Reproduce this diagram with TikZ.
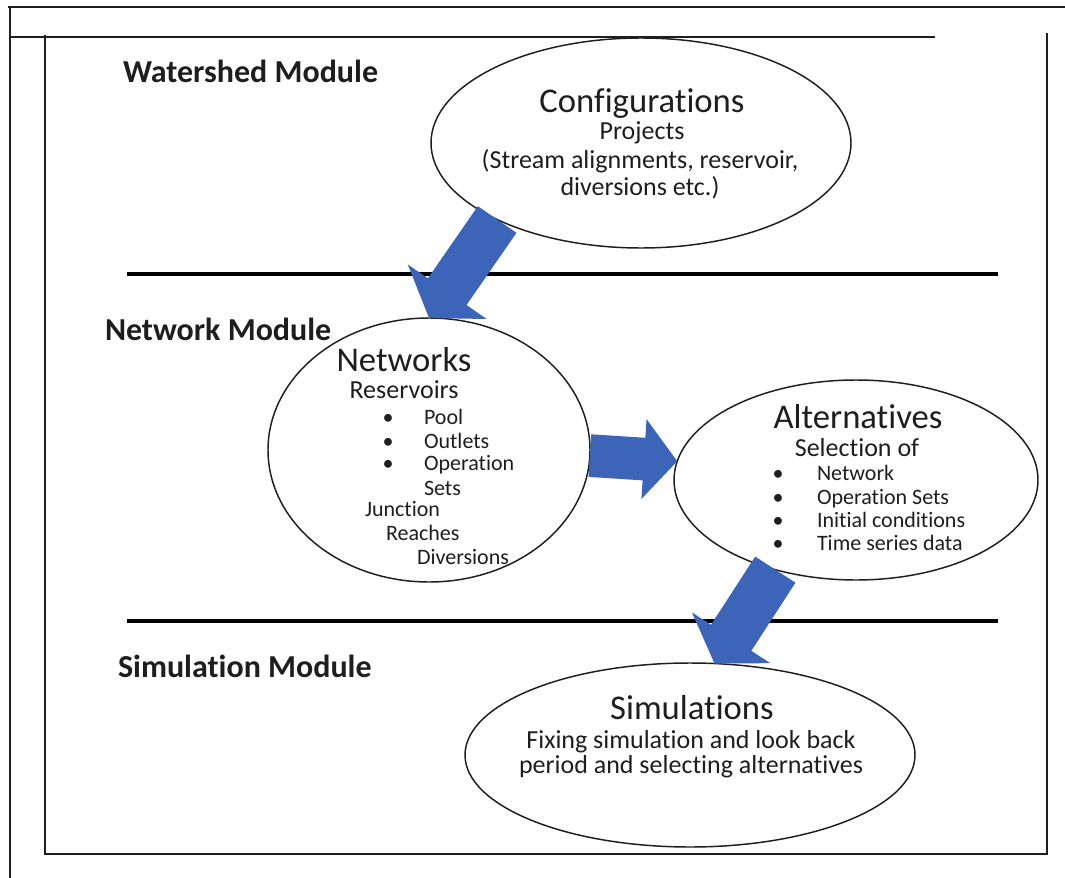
\documentclass[tikz,border=0pt]{standalone}
\usepackage{fontspec}
\setmainfont{Carlito}[Ligatures=NoCommon]
\usetikzlibrary{calc,shapes.geometric}
\definecolor{arrowblue}{RGB}{60,100,185}
\definecolor{ink}{RGB}{30,30,30}
\newcommand{\blockarrow}[5]{%
  \coordinate (ba-base) at ($(#2)!#5!(#1)$);
  \fill[arrowblue]
    ($(#1)!#3!90:(#2)$) -- ($(ba-base)!#3!90:(#2)$) -- ($(ba-base)!#4!90:(#2)$)
    -- (#2) -- ($(ba-base)!#4!-90:(#2)$) -- ($(ba-base)!#3!-90:(#2)$)
    -- ($(#1)!#3!-90:(#2)$) -- cycle;
}
\tikzset{
  ell/.style={draw=ink, line width=1.1pt, ellipse, inner sep=0pt, outer sep=0pt},
  frame/.style={draw=ink, line width=1.3pt},
  sep/.style={draw=black, line width=2.6pt},
  txt/.style={inner sep=0pt, outer sep=0pt, text=ink},
  modlabel/.style={txt, anchor=base west, font=\fontsize{24}{28}\selectfont\bfseries},
  head/.style={txt, anchor=base, font=\fontsize{26}{31}\selectfont},
  sub/.style={txt, anchor=base, font=\fontsize{19.5}{23}\selectfont},
  item/.style={txt, anchor=base west, font=\fontsize{16.5}{20}\selectfont},
}
\begin{document}
\begin{tikzpicture}[x=0.75pt, y=-0.75pt]
\useasboundingbox[fill=white] (0,0) rectangle (1065,878);
% frames
\draw[frame] (8,7) -- (1065,7);
\draw[frame] (10,7) -- (10,878);
\draw[frame] (10,37) -- (935,37);
\draw[frame] (45,35) -- (45,854) -- (1047,854) -- (1047,33);
% separators
\draw[sep] (127,274) -- (998,274);
\draw[sep] (127,621) -- (998,621);
% module labels
\node[modlabel] (wm) at (123,82) {Watershed Module};
\node[modlabel] (nm) at (105,340) {Network Module};
\node[modlabel] (sm) at (118,677) {Simulation Module};
% ellipses
\node[ell, minimum width=315pt, minimum height=157.5pt] (conf) at (641,143) {};
\node[ell, minimum width=241.5pt, minimum height=198pt] (net) at (429,450) {};
\node[ell, minimum width=273pt, minimum height=150pt] (alt) at (856,480) {};
\node[ell, minimum width=337.5pt, minimum height=138pt] (sim) at (690,755) {};
% configurations text
\node[head] (conf-h) at (642,112) {Configurations};
\node[sub] (conf-1) at (642,139) {Projects};
\node[sub] (conf-2) at (640,168) {(Stream alignments, reservoir,};
\node[sub] (conf-3) at (640,195) {diversions etc.)};
% networks text
\node[head] (net-h) at (404,371) {Networks};
\node[sub] (net-1) at (404,398) {Reservoirs};
\node[item, anchor=base] (nb1) at (388,424) {\textbullet};
\node[item, anchor=base] (nb2) at (388,448) {\textbullet};
\node[item, anchor=base] (nb3) at (388,470) {\textbullet};
\node[item] (ni1) at (424,424) {Pool};
\node[item] (ni2) at (424,448) {Outlets};
\node[item] (ni3) at (424,470) {Operation};
\node[item] (ni4) at (424,495) {Sets};
\node[item] (ni5) at (365,516) {Junction};
\node[item] (ni6) at (386,540) {Reaches};
\node[item] (ni7) at (417,564) {Diversions};
% alternatives text
\node[head] (alt-h) at (858,428) {Alternatives};
\node[sub] (alt-1) at (857,456) {Selection of};
\node[item, anchor=base] (ab1) at (778,480) {\textbullet};
\node[item, anchor=base] (ab2) at (778,504) {\textbullet};
\node[item, anchor=base] (ab3) at (778,527) {\textbullet};
\node[item, anchor=base] (ab4) at (778,550) {\textbullet};
\node[item] (ai1) at (817,480) {Network};
\node[item] (ai2) at (817,504) {Operation Sets};
\node[item] (ai3) at (817,527) {Initial conditions};
\node[item] (ai4) at (817,550) {Time series data};
% simulations text
\node[head] (sim-h) at (692,719) {Simulations};
\node[sub] (sim-1) at (691,748) {Fixing simulation and look back};
\node[sub] (sim-2) at (691,773) {period and selecting alternatives};
% block arrows
\blockarrow{conf.208}{net.north}{17.6pt}{36pt}{24pt}
\blockarrow{net.-2}{alt.174.5}{16pt}{30pt}{25pt}
\blockarrow{alt.228.6}{sim.75}{18pt}{35pt}{23pt}
\end{tikzpicture}
\end{document}
